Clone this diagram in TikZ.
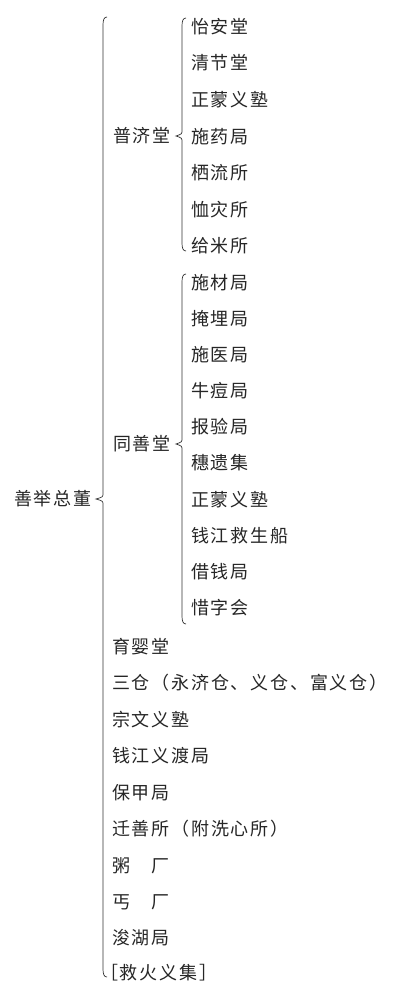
\documentclass[tikz,border=0pt]{standalone}
\usepackage{fontspec}
\newfontfamily\cjk[LetterSpace=10]{Noto Sans CJK SC}
\newcommand{\bracepath}[5]{% x, ytop, ybot, ytip, tipx
  \draw[bracestyle] (#1+4,#2) .. controls (#1+1,#2) and (#1,#2+3) .. (#1,#2+8)
    -- (#1,#4-6) .. controls (#1,#4-2) .. (#5,#4)
    .. controls (#1,#4+2) .. (#1,#4+6)
    -- (#1,#3-8) .. controls (#1,#3-3) and (#1+1,#3) .. (#1+4,#3);}
\begin{document}
\begin{tikzpicture}[x=1pt,y=-1pt,
  bracestyle/.style={draw=black!80,line width=0.7pt},
  item/.style={anchor=west,inner sep=0pt,font=\cjk\fontsize{18}{20}\selectfont,text=black!85}]
\useasboundingbox[fill=white] (0,0) rectangle (411,1000);
% braces
\bracepath{103}{17}{977}{499}{96}
\bracepath{182}{18}{251}{136}{176}
\bracepath{182}{274}{624}{444}{176}
% root
\node[item] (root) at (14,499) {善举总董};
% level 1
\node[item] (pj) at (113,136) {普济堂};
\node[item] (ts) at (113,444) {同善堂};
% group 1
\node[item] (a1) at (191,27) {怡安堂};
\node[item] (a2) at (191,63) {清节堂};
\node[item] (a3) at (191,100) {正蒙义塾};
\node[item] (a4) at (191,137) {施药局};
\node[item] (a5) at (191,173) {栖流所};
\node[item] (a6) at (191,210) {恤灾所};
\node[item] (a7) at (191,246) {给米所};
% group 2
\node[item] (b1) at (191,283) {施材局};
\node[item] (b2) at (191,319) {掩埋局};
\node[item] (b3) at (191,355) {施医局};
\node[item] (b4) at (191,391) {牛痘局};
\node[item] (b5) at (191,427) {报验局};
\node[item] (b6) at (191,463) {穗遗集};
\node[item] (b7) at (191,500) {正蒙义塾};
\node[item] (b8) at (191,536) {钱江救生船};
\node[item] (b9) at (191,572) {借钱局};
\node[item] (b10) at (191,608) {惜字会};
% group 3
\node[item] (c1) at (112,647) {育婴堂};
\node[item] (c2) at (112,683) {三仓（永济仓、义仓、富义仓）};
\node[item] (c3) at (112,720) {宗文义塾};
\node[item] (c4) at (112,756) {钱江义渡局};
\node[item] (c5) at (112,793) {保甲局};
\node[item] (c6) at (112,829) {迁善所（附洗心所）};
\node[item] (c7) at (112,866) {粥　厂};
\node[item] (c8) at (112,902) {丐　厂};
\node[item] (c9) at (112,938) {浚湖局};
\node[item] (c10) at (100,973) {［救火义集］};
\end{tikzpicture}
\end{document}
